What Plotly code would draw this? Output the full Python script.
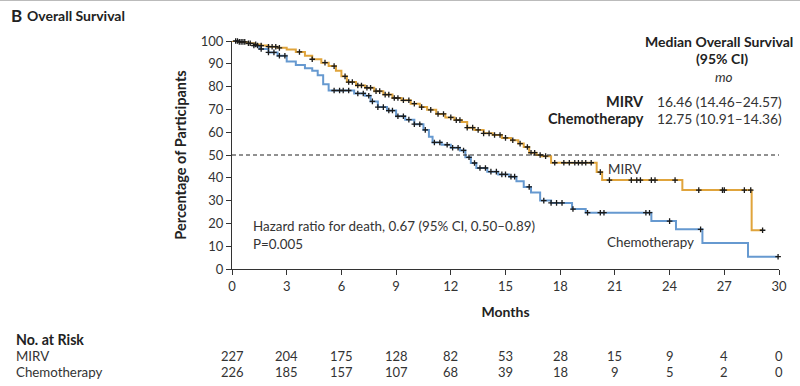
import plotly.graph_objects as go
import numpy as np

# ---- data ----
mirv_t = [0, 0.4, 0.8, 1.2, 1.6, 2.0, 2.5, 3.0, 3.5, 4.0, 4.4, 4.9, 5.3, 5.7, 6.0, 6.3, 6.8, 7.3, 7.8, 8.3,
          8.8, 9.3, 9.8, 10.3, 10.7, 11.2, 11.7, 12.2, 12.6, 12.9, 13.3, 13.8, 14.3, 14.8, 15.3, 15.7,
          16.0, 16.3, 16.7, 17.0, 17.5, 20.0, 20.3, 24.7, 28.5, 29.1]
mirv_s = [100, 99.6, 99, 98.5, 98, 97.5, 97, 96.3, 95.2, 93.5, 92, 90.5, 89, 87, 84.5, 82, 80.5, 79.5, 78, 76.5,
          75, 74, 72.5, 71, 69.8, 68, 66.5, 65.3, 64.5, 62, 61, 59.5, 58.8, 57.5, 56.5, 55,
          53.5, 51, 50, 49.5, 46.6, 42.5, 39, 34.6, 17, 17]
mirv_cens = [0.2, 0.4, 0.6, 0.9, 1.3, 1.6, 2.0, 2.2, 2.4, 2.6, 3.7, 4.4, 5.1, 5.6, 6.2, 6.4, 6.6, 6.9, 7.1, 7.4,
             7.6, 7.9, 8.1, 8.4, 8.6, 8.9, 9.1, 9.4, 9.7, 10.0, 10.4, 10.9, 11.3, 11.6, 12.0, 12.3, 12.5,
             12.9, 13.2, 13.5, 13.8, 14.1, 14.4, 14.7, 15.0, 15.4, 15.8, 16.2, 16.4, 16.6, 16.9, 17.2,
             17.7, 18.2, 18.5, 18.8, 19.0, 19.2, 19.4, 19.7, 20.2, 20.7, 21.9, 22.2, 22.4, 23.0, 23.2,
             24.3, 25.6, 26.9, 27.0, 28.1, 28.45, 29.1]

chemo_t = [0, 0.4, 0.8, 1.2, 1.5, 2.0, 2.5, 3.0, 3.5, 4.0, 4.4, 4.7, 5.0, 5.3, 6.7, 7.3, 7.6, 8.0, 8.5, 9.0,
           9.5, 10.0, 10.5, 10.8, 11.0, 11.5, 12.0, 12.5, 12.8, 13.1, 13.4, 14.0, 14.6, 15.2, 15.6, 16.0,
           16.4, 16.9, 17.5, 18.65, 19.4, 23.0, 24.35, 25.8, 28.3, 29.95]
chemo_s = [100, 99.6, 99, 98, 96.5, 95, 93.5, 91, 89.5, 88, 87, 85, 81, 78.3, 77, 76, 73.5, 71, 69.5, 67,
           65.5, 63.5, 61, 58, 55.5, 54.5, 53.2, 52, 49, 46.5, 44.3, 42.7, 41.5, 40.5, 38.5, 36,
           33.5, 30, 29, 26.3, 24.7, 21, 17.4, 11.4, 5.4, 5.4]
chemo_cens = [0.3, 0.5, 0.7, 1.0, 1.2, 1.4, 1.6, 2.0, 2.3, 2.6, 2.9, 5.6, 5.9, 6.1, 6.4, 6.9, 7.2, 7.5, 7.7,
              8.0, 8.3, 8.6, 8.8, 9.1, 9.4, 9.7, 10.0, 10.3, 10.6, 11.1, 11.4, 11.8, 12.1, 12.4, 12.7,
              13.0, 13.3, 13.6, 13.9, 14.2, 14.5, 14.8, 15.0, 15.3, 15.5, 16.3, 17.1, 17.5, 17.8, 18.1,
              18.7, 19.5, 20.2, 20.4, 22.7, 22.9, 24.0, 25.7, 29.95]

risk_months = [0, 3, 6, 9, 12, 15, 18, 21, 24, 27, 30]
risk_mirv = [227, 204, 175, 128, 82, 53, 28, 15, 9, 4, 0]
risk_chemo = [226, 185, 157, 107, 68, 39, 18, 9, 5, 2, 0]

x_ticks = list(range(0, 31, 3))
y_ticks = list(range(0, 101, 10))

ORANGE = "#E0A43B"
BLUE = "#6699D0"
TXT = "#333333"
DARK = "#222222"
FONT = "Lato"


def step_lookup(ts, ss, q):
    idx = np.searchsorted(np.array(ts), np.array(q), side="right") - 1
    return [ss[i] for i in idx]


fig = go.Figure()

fig.add_trace(go.Scatter(x=chemo_t, y=chemo_s, mode="lines", line=dict(color=BLUE, width=2, shape="hv"),
                         cliponaxis=False, showlegend=False, hoverinfo="skip"))
fig.add_trace(go.Scatter(x=mirv_t, y=mirv_s, mode="lines", line=dict(color=ORANGE, width=2, shape="hv"),
                         cliponaxis=False, showlegend=False, hoverinfo="skip"))
for ts, ss, cs in [(chemo_t, chemo_s, chemo_cens), (mirv_t, mirv_s, mirv_cens)]:
    fig.add_trace(go.Scatter(x=cs, y=step_lookup(ts, ss, cs), mode="markers",
                             marker=dict(symbol="cross-thin", size=4, line=dict(color="#1a1a1a", width=1.3)),
                             cliponaxis=False, showlegend=False, hoverinfo="skip"))

# dashed median line
fig.add_shape(type="line", x0=0, x1=30, y0=50, y1=50, xref="x", yref="y",
              line=dict(color=DARK, width=1, dash="4px,3px"))

L, R, T, B = 232, 21, 41, 117
W, H = 800, 386
PW, PH = W - L - R, H - T - B


def xp(px):
    return (px - L) / PW


def yp(py):
    return (H - B - py) / PH


# thin grey rule at the top of the panel
fig.add_shape(type="line", x0=xp(0), x1=xp(800), y0=yp(0.5), y1=yp(0.5), xref="paper", yref="paper",
              line=dict(color="#bbbbbb", width=1))


def ann(text, px, py, size=13, bold=False, xanchor="left", italic=False, color=TXT):
    if bold:
        text = f"<b>{text}</b>"
    if italic:
        text = f"<i>{text}</i>"
    fig.add_annotation(text=text, x=xp(px), y=yp(py), xref="paper", yref="paper", showarrow=False,
                       xanchor=xanchor, yanchor="middle", font=dict(family=FONT, size=size, color=color))


ann("B", 9, 15, size=17, bold=True, color=DARK)
ann("Overall Survival", 25, 15, size=14, bold=True, color=DARK)

ann("Median Overall Survival", 719, 41, size=14, bold=True, xanchor="center", color=DARK)
ann("(95% CI)", 722, 58, size=14, bold=True, xanchor="center", color=DARK)
ann("mo", 724, 77, size=13.5, italic=True, xanchor="center")
ann("MIRV", 646, 101, size=14.5, bold=True, xanchor="right", color=DARK)
ann("16.46 (14.46–24.57)", 655, 101, size=13.8)
ann("Chemotherapy", 646, 119, size=14.5, bold=True, xanchor="right", color=DARK)
ann("12.75 (10.91–14.36)", 655, 119, size=13.8)

ann("MIRV", 606, 169, size=13.4)
ann("Chemotherapy", 605, 242, size=13.4)
ann("Hazard ratio for death, 0.67 (95% CI, 0.50–0.89)", 251, 226, size=13.4)
ann("P=0.005", 251, 244, size=13.4)

ann("No. at Risk", 14, 339, size=14.2, bold=True, color=DARK)
ann("MIRV", 14, 356, size=13.3)
ann("Chemotherapy", 14, 372, size=13.3)
for m, a, c in zip(risk_months, risk_mirv, risk_chemo):
    fig.add_annotation(text=str(a), x=m, y=yp(356), xref="x", yref="paper", showarrow=False,
                       xanchor="center", yanchor="middle", font=dict(family=FONT, size=13, color=TXT))
    fig.add_annotation(text=str(c), x=m, y=yp(372), xref="x", yref="paper", showarrow=False,
                       xanchor="center", yanchor="middle", font=dict(family=FONT, size=13, color=TXT))

fig.update_layout(
    width=W, height=H, margin=dict(l=L, r=R, t=T, b=B, pad=0),
    paper_bgcolor="white", plot_bgcolor="white",
    font=dict(family=FONT, color=TXT, size=13),
    xaxis=dict(range=[0, 30], tickvals=x_ticks, ticks="outside", ticklen=5, tickwidth=1.2, tickcolor="#333",
               showline=True, linecolor="#333", linewidth=1.3, showgrid=False, zeroline=False,
               tickfont=dict(family=FONT, size=13, color=TXT),
               title=dict(text="<b>Months</b>", font=dict(family=FONT, size=14, color=DARK), standoff=14)),
    yaxis=dict(range=[0, 100], tickvals=y_ticks, ticks="outside", ticklen=5, tickwidth=1.2, tickcolor="#333",
               showline=True, linecolor="#333", linewidth=1.3, showgrid=False, zeroline=False,
               tickfont=dict(family=FONT, size=13, color=TXT),
               title=dict(text="<b>Percentage of Participants</b>", font=dict(family=FONT, size=14.5, color=DARK),
                          standoff=10)),
)

fig.write_html("out.html", config={"displayModeBar": False},
               post_script="document.body.style.margin='0';document.body.style.overflow='hidden';")
